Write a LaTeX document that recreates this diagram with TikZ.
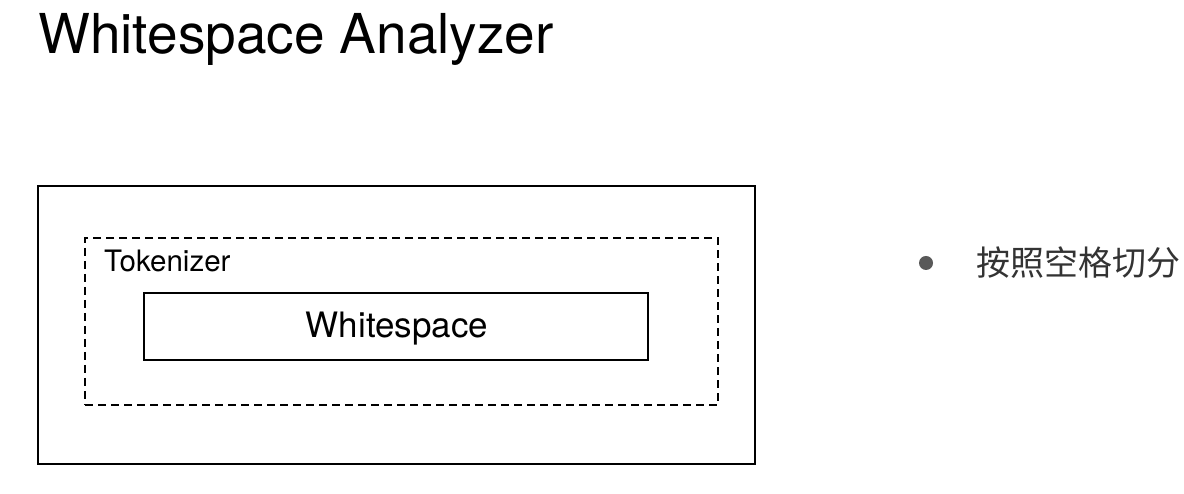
\documentclass[tikz,border=0pt]{standalone}
\usepackage{fontspec}
\setmainfont{TeX Gyre Heros}
\newfontfamily\cjk{Noto Sans CJK SC}
\begin{document}
\begin{tikzpicture}[x=1pt,y=1pt,
  frame/.style={draw=black,line width=2.2pt,inner sep=0pt},
  dashframe/.style={draw=black,line width=2.2pt,dash pattern=on 8pt off 5pt,inner sep=0pt},
  label/.style={inner sep=0pt,text=black}]
\useasboundingbox (0,0) rectangle (1184,494);
\node[label,anchor=base west,font=\fontsize{55}{60}\selectfont] (title) at (38,440) {Whitespace Analyzer};
\node[frame,minimum width=717pt,minimum height=278pt] (analyzer) at (396.5,169) {};
\node[dashframe,minimum width=633pt,minimum height=167pt] (tokenizer) at (401.5,172.5) {};
\node[frame,minimum width=504pt,minimum height=67pt] (ws) at (396,167.5) {};
\node[label,font=\fontsize{35}{40}\selectfont] (wstext) at (397,165) {Whitespace};
\node[label,anchor=base west,font=\fontsize{29.5}{34}\selectfont] (toktext) at (104,222) {Tokenizer};
\fill[black!65] (926,231) circle (7) coordinate (bullet);
\node[label,anchor=west,text=black!80,font=\cjk\fontsize{34}{40}\selectfont] (note) at (976,231) {按照空格切分};
\end{tikzpicture}
\end{document}
